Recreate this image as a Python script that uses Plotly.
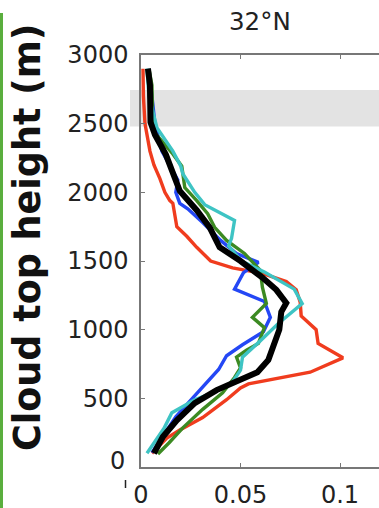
import plotly.graph_objects as go

# ---- data (cloud top height in m, fraction) ----
red_h = [2900, 2700, 2500, 2300, 2200, 2100, 2000, 1940, 1920, 1750, 1680, 1600, 1500, 1450, 1410, 1350, 1290, 1200, 1100, 1020, 1000, 900, 795, 690, 655, 605, 575, 490, 360, 270, 210, 120, 100]
red_v = [0.001, 0.0012, 0.002, 0.0045, 0.0065, 0.0095, 0.012, 0.0145, 0.016, 0.018, 0.023, 0.028, 0.035, 0.046, 0.061, 0.073, 0.078, 0.080, 0.0805, 0.0865, 0.088, 0.089, 0.1015, 0.085, 0.073, 0.054, 0.050, 0.043, 0.031, 0.0195, 0.013, 0.007, 0.0055]

blue_h = [2900, 2700, 2500, 2300, 2090, 2000, 1920, 1880, 1780, 1650, 1555, 1490, 1415, 1295, 1205, 1090, 985, 890, 810, 710, 610, 510, 365, 270, 185, 105]
blue_v = [0.004, 0.0055, 0.007, 0.0105, 0.0185, 0.0175, 0.0195, 0.0235, 0.031, 0.040, 0.048, 0.059, 0.0515, 0.047, 0.062, 0.065, 0.0615, 0.051, 0.043, 0.039, 0.033, 0.0265, 0.0175, 0.013, 0.009, 0.0055]

green_h = [2900, 2780, 2450, 2280, 2190, 2035, 1940, 1845, 1745, 1650, 1555, 1430, 1310, 1190, 1090, 1015, 900, 850, 800, 722, 652, 540, 420, 285, 175, 95]
green_v = [0.004, 0.0055, 0.006, 0.016, 0.0205, 0.022, 0.028, 0.0335, 0.037, 0.043, 0.052, 0.060, 0.061, 0.063, 0.056, 0.062, 0.059, 0.053, 0.048, 0.050, 0.047, 0.041, 0.031, 0.021, 0.014, 0.0085]

cyan_h = [2900, 2700, 2470, 2300, 2190, 2135, 2000, 1910, 1795, 1665, 1610, 1500, 1420, 1295, 1190, 1045, 920, 800, 705, 620, 545, 490, 395, 280, 100]
cyan_v = [0.003, 0.004, 0.008, 0.016, 0.020, 0.021, 0.027, 0.032, 0.047, 0.0455, 0.044, 0.0505, 0.062, 0.077, 0.081, 0.069, 0.060, 0.051, 0.050, 0.046, 0.037, 0.027, 0.0155, 0.0115, 0.003]

black_h = [2900, 2780, 2510, 2420, 2275, 2080, 2010, 1870, 1745, 1600, 1500, 1380, 1290, 1195, 1130, 1000, 875, 780, 690, 640, 560, 465, 340, 220, 100]
black_v = [0.0035, 0.0045, 0.0048, 0.007, 0.0125, 0.0175, 0.0195, 0.028, 0.0345, 0.0395, 0.050, 0.061, 0.068, 0.073, 0.0705, 0.0695, 0.0665, 0.064, 0.0585, 0.050, 0.038, 0.027, 0.018, 0.011, 0.0065]

x_ticks = [0, 0.05, 0.1]
x_ticklabels = ["0", "0.05", "0.1"]
y_ticks = [500, 1000, 1500, 2000, 2500, 3000]
band = (2480, 2745)

series = [
    (red_v, red_h, "#F03C1E", 3.4),
    (blue_v, blue_h, "#2447F5", 3.4),
    (green_v, green_h, "#3C8A22", 3.4),
    (cyan_v, cyan_h, "#3EC4C4", 3.4),
    (black_v, black_h, "#000000", 6),
]

fig = go.Figure()
for xv, yv, col, w in series:
    fig.add_trace(go.Scatter(x=xv, y=yv, mode="lines",
                             line=dict(color=col, width=w), showlegend=False,
                             hoverinfo="skip"))

W, H = 379, 508
ml, mr, mt, mb = 141, 0, 55, 41
pw = W - ml - mr
ph = H - mt - mb

def px2x(p):
    return (p - ml) / pw

def px2y(p):
    return (H - mb - p) / ph

tickfont = dict(family="DejaVu Sans", size=24, color="#222")

fig.update_layout(
    width=W, height=H,
    margin=dict(l=ml, r=mr, t=mt, b=mb, pad=0),
    paper_bgcolor="white", plot_bgcolor="white",
    xaxis=dict(range=[0, 0.1196], tickvals=x_ticks, ticktext=x_ticklabels,
               ticks="inside", ticklen=4, tickwidth=1, tickcolor="#777",
               showline=True, linecolor="#777", linewidth=1.5, mirror="ticks",
               showgrid=False, zeroline=False, tickfont=tickfont,
               ticklabelstandoff=5),
    yaxis=dict(range=[0, 3000], tickvals=y_ticks,
               ticks="inside", ticklen=4, tickwidth=1, tickcolor="#777",
               showline=True, linecolor="#777", linewidth=1.5, mirror=False,
               showgrid=False, zeroline=False, tickfont=tickfont,
               ticklabelstandoff=6),
    shapes=[
        dict(type="rect", xref="paper", yref="y", x0=px2x(130), x1=1,
             y0=band[0], y1=band[1], fillcolor="#E3E3E3", line=dict(width=0),
             layer="below"),
        dict(type="line", xref="paper", yref="paper", x0=px2x(1.5), x1=px2x(1.5),
             y0=px2y(508), y1=px2y(13), line=dict(color="#5AAE3E", width=3)),
        dict(type="line", xref="paper", yref="paper", x0=px2x(125.5), x1=px2x(125.5),
             y0=px2y(480), y1=px2y(488), line=dict(color="#222", width=1.5)),
    ],
    annotations=[
        dict(text="32°N", xref="paper", yref="paper", x=0.5, y=px2y(21),
             xanchor="center", yanchor="middle", showarrow=False,
             font=dict(family="DejaVu Sans", size=24.5, color="#222")),
        dict(text="Cloud top height (m)", xref="paper", yref="paper",
             x=px2x(27), y=px2y(238), xanchor="center", yanchor="middle",
             textangle=-90, showarrow=False,
             font=dict(family="DejaVu Sans", size=36.5, color="#111", weight="bold")),
        dict(text="0", xref="paper", yref="paper", x=px2x(127), y=px2y(461),
             xanchor="right", yanchor="middle", showarrow=False,
             font=tickfont),
    ],
)

fig.write_html("out.html")
